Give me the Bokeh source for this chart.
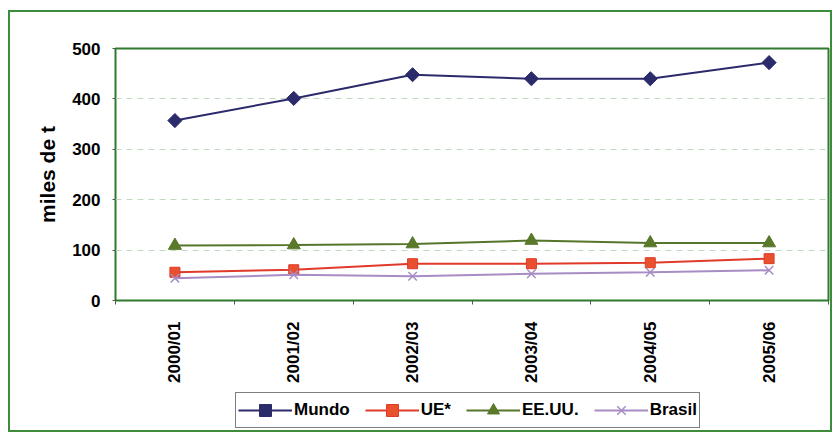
import math
from bokeh.plotting import figure
from bokeh.layouts import column
from bokeh.models import Range1d, LinearAxis, FixedTicker, Legend, LegendItem
from bokeh.embed import file_html
from bokeh.resources import INLINE

campaigns = ["2000/01", "2001/02", "2002/03", "2003/04", "2004/05", "2005/06"]
mundo = [357, 401, 448, 440, 440, 472]
ue = [56, 61, 73, 73, 75, 83]
eeuu = [109, 110, 112, 119, 114, 114]
brasil = [44, 51, 48, 53, 56, 60]
series_names = ["Mundo", "UE*", "EE.UU.", "Brasil"]
y_ticks = [0, 100, 200, 300, 400, 500]

FONT = "Liberation Sans"

# category centers on a numeric axis (one unit per campaign)
xc = [i + 0.5 for i in range(len(campaigns))]

W = 820

p = figure(width=W, height=374, output_backend="svg", toolbar_location=None,
           x_range=Range1d(0, len(campaigns)), y_range=Range1d(0, 500),
           x_axis_location=None, y_axis_location=None)
p.min_border_left = 105
p.min_border_top = 36
p.min_border_right = 2
p.min_border_bottom = 86
p.background_fill_color = "white"
p.border_fill_color = "white"
p.outline_line_color = "#2F7A2F"
p.outline_line_width = 2

# y axis
yax = LinearAxis(ticker=FixedTicker(ticks=y_ticks), axis_label="miles de t")
yax.axis_line_color = None
yax.major_tick_line_color = "#555555"
yax.major_tick_out = 3
yax.major_tick_in = 0
yax.minor_tick_line_color = None
yax.major_label_text_font = FONT
yax.major_label_text_font_style = "bold"
yax.major_label_text_font_size = "17px"
yax.major_label_text_color = "black"
yax.major_label_standoff = 12
yax.axis_label_text_font = FONT
yax.axis_label_text_font_style = "bold"
yax.axis_label_text_font_size = "21px"
yax.axis_label_text_color = "black"
yax.axis_label_standoff = 10
p.add_layout(yax, "left")

# x tick axis at category boundaries
tax = LinearAxis(ticker=FixedTicker(ticks=list(range(len(campaigns) + 1))))
tax.major_label_overrides = {i: "" for i in range(len(campaigns) + 1)}
tax.axis_line_color = None
tax.major_tick_line_color = "#555555"
tax.major_tick_out = 4
tax.major_tick_in = 0
tax.minor_tick_line_color = None
tax.major_label_text_font_size = "1px"
tax.major_label_standoff = 0
p.add_layout(tax, "below")

cax = LinearAxis(ticker=FixedTicker(ticks=xc))
cax.major_label_overrides = {x: c for x, c in zip(xc, campaigns)}
cax.axis_line_color = None
cax.major_tick_line_color = None
cax.minor_tick_line_color = None
cax.major_label_orientation = math.pi / 2
cax.major_label_text_font = FONT
cax.major_label_text_font_style = "bold"
cax.major_label_text_font_size = "17px"
cax.major_label_text_color = "black"
cax.major_label_standoff = 11
p.add_layout(cax, "below")

p.xgrid.grid_line_color = None
p.ygrid.ticker = FixedTicker(ticks=y_ticks[1:-1])
p.ygrid.grid_line_color = "#BFDABF"
p.ygrid.grid_line_dash = "6 5"
p.ygrid.grid_line_width = 1

styles = [
    (mundo, "#2B2A6B", "square", 10, "#2B2A6B", math.pi / 4),
    (ue, "#E03A2A", "square", 10, "#E8502E", 0),
    (eeuu, "#55762A", "triangle", 13, "#5A7A2A", 0),
    (brasil, "#A88CC4", "x", 12, "#A88CC4", 0),
]

# legend strip below the chart
q = figure(width=W, height=44, output_backend="svg", toolbar_location=None,
           x_range=Range1d(0, 1), y_range=Range1d(0, 1),
           x_axis_location=None, y_axis_location=None)
q.min_border_left = 0
q.min_border_right = 0
q.min_border_top = 0
q.min_border_bottom = 0
q.outline_line_color = None
q.xgrid.grid_line_color = None
q.ygrid.grid_line_color = None
q.background_fill_color = "white"
q.border_fill_color = "white"

items = []
for name, (vals, col, mk, sz, fill, ang) in zip(series_names, styles):
    p.line(xc, vals, line_color=col, line_width=2)
    p.scatter(xc, vals, marker=mk, size=sz, fill_color=fill, line_color=col,
              angle=ang, line_width=1.5 if mk == "x" else 1)
    # off-range proxies so that the legend strip can draw each series' glyph
    ln = q.line([-5, -4], [-5, -5], line_color=col, line_width=2)
    sc = q.scatter([-5], [-5], marker=mk, size=sz, fill_color=fill, line_color=col,
                   angle=ang, line_width=1.5 if mk == "x" else 1)
    items.append(LegendItem(label=name, renderers=[ln, sc]))

legend = Legend(items=items, orientation="horizontal", location=(120, 2))
legend.label_text_font = FONT
legend.label_text_font_style = "bold"
legend.label_text_font_size = "17px"
legend.label_text_color = "black"
legend.glyph_width = 54
legend.glyph_height = 30
legend.label_standoff = 2
legend.spacing = 15
legend.padding = 2
legend.margin = 0
legend.border_line_color = "black"
legend.border_line_width = 1
legend.background_fill_color = "white"
legend.background_fill_alpha = 1
q.add_layout(legend, "center")

layout = column(p, q, spacing=0)
layout.styles = {"border": "2px solid #3C8C3C", "margin-left": "8px", "margin-top": "10px"}

open("out.html", "w").write(file_html(layout, INLINE))
